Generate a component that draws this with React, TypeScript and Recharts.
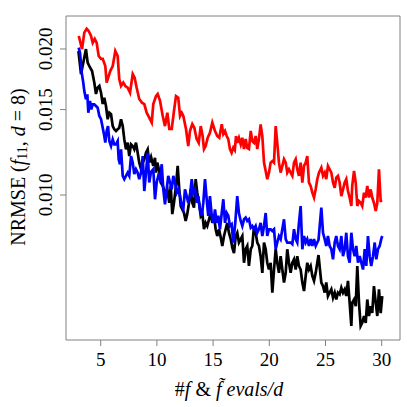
import { LineChart, Line, XAxis, YAxis, ReferenceArea, Label } from 'recharts'

// NRMSE vs number of f & f~ evaluations per dimension (log y)
const xTicks = [5, 10, 15, 20, 25, 30]
const yTicks = [0.01, 0.015, 0.02]

const redX = [
  3.05, 3.34, 3.54, 3.75, 3.93, 4.14, 4.29, 4.47, 4.64, 4.82,
  5.03, 5.18, 5.41, 5.53, 5.71, 5.85, 6.07, 6.30, 6.51, 6.65,
  6.81, 7.01, 7.19, 7.40, 7.61, 7.85, 8.02, 8.20, 8.43, 8.67,
  8.88, 9.09, 9.32, 9.54, 9.68, 9.92, 10.07, 10.28, 10.52, 10.72,
  10.93, 11.10, 11.32, 11.52, 11.70, 11.90, 12.06, 12.21, 12.35, 12.59,
  12.79, 12.94, 13.15, 13.33, 13.54, 13.72, 13.90, 14.07, 14.19, 14.34,
  14.52, 14.72, 14.93, 15.17, 15.37, 15.55, 15.77, 15.91, 16.06, 16.21,
  16.35, 16.50, 16.65, 16.80, 16.93, 17.04, 17.15, 17.30, 17.46, 17.60,
  17.75, 17.90, 18.04, 18.19, 18.35, 18.49, 18.64, 18.79, 18.93, 19.08,
  19.23, 19.38, 19.53, 19.68, 19.82, 19.97, 20.12, 20.27, 20.42, 20.57,
  20.71, 20.86, 21.01, 21.16, 21.31, 21.46, 21.60, 21.75, 21.90, 22.05,
  22.20, 22.35, 22.49, 22.64, 22.79, 22.94, 23.09, 23.24, 23.38, 23.53,
  23.68, 23.83, 23.98, 24.13, 24.27, 24.42, 24.63, 24.78, 24.93, 25.07,
  25.22, 25.37, 25.52, 25.67, 25.82, 25.96, 26.11, 26.26, 26.41, 26.56,
  26.71, 26.85, 27.00, 27.15, 27.30, 27.38, 27.54, 27.69, 27.83, 27.98,
  28.13, 28.27, 28.43, 28.57, 28.72, 28.87, 29.02, 29.16, 29.31, 29.47,
  29.61, 29.76, 29.91, 30.05,
]
const redY = [
  0.02127, 0.01999, 0.02161, 0.02202, 0.02178, 0.02127, 0.0206, 0.02097, 0.0206, 0.01934,
  0.01908, 0.01908, 0.01844, 0.01705, 0.01759, 0.01801, 0.01844, 0.01981, 0.01934, 0.01734,
  0.01678, 0.01705, 0.01678, 0.01664, 0.01625, 0.01776, 0.01745, 0.01664, 0.01577, 0.0155,
  0.0154, 0.01478, 0.01444, 0.0141, 0.0154, 0.01599, 0.01615, 0.01563, 0.01455, 0.01387,
  0.01478, 0.01368, 0.01368, 0.0149, 0.01599, 0.01586, 0.01455, 0.01478, 0.01455, 0.01368,
  0.01262, 0.01355, 0.014, 0.01376, 0.01304, 0.01281, 0.01387, 0.01323, 0.01244, 0.01262,
  0.01312, 0.01343, 0.0141, 0.01355, 0.01323, 0.01312, 0.014, 0.01336, 0.01355, 0.01323,
  0.01304, 0.01244, 0.01222, 0.01252, 0.01238, 0.01323, 0.01281, 0.01312, 0.01272, 0.01312,
  0.01244, 0.01304, 0.0125, 0.01244, 0.01355, 0.01292, 0.01281, 0.01323, 0.01244, 0.01304,
  0.01398, 0.01323, 0.01166, 0.01121, 0.01078, 0.01112, 0.01166, 0.01175, 0.01166, 0.01387,
  0.01281, 0.01166, 0.01112, 0.01148, 0.01185, 0.01166, 0.01112, 0.0113, 0.01112, 0.01095,
  0.01166, 0.01185, 0.0113, 0.01095, 0.01166, 0.01061, 0.01148, 0.01166, 0.01203, 0.01061,
  0.01044, 0.01011, 0.00988, 0.01029, 0.01078, 0.01112, 0.01138, 0.01095, 0.01112, 0.01078,
  0.01148, 0.0113, 0.01112, 0.01061, 0.01035, 0.01086, 0.01095, 0.01061, 0.00995, 0.01027,
  0.01061, 0.01078, 0.01019, 0.00988, 0.00949, 0.01044, 0.01121, 0.01061, 0.00949, 0.00972,
  0.00964, 0.00949, 0.01011, 0.00988, 0.01044, 0.00988, 0.01027, 0.00988, 0.00964, 0.00927,
  0.00964, 0.0113, 0.00972, 0.00972,
]

const blackX = [
  3.02, 3.25, 3.45, 3.69, 3.84, 3.99, 4.23, 4.43, 4.58, 4.73,
  4.88, 5.03, 5.18, 5.32, 5.47, 5.62, 5.77, 5.92, 6.07, 6.21,
  6.36, 6.51, 6.65, 6.81, 6.96, 7.10, 7.25, 7.40, 7.54, 7.70,
  7.85, 7.99, 8.14, 8.29, 8.43, 8.59, 8.74, 8.88, 9.03, 9.18,
  9.32, 9.48, 9.68, 9.83, 9.92, 10.04, 10.21, 10.34, 10.52, 10.63,
  10.81, 10.93, 11.10, 11.23, 11.37, 11.52, 11.70, 11.85, 11.99, 12.12,
  12.26, 12.41, 12.56, 12.70, 12.86, 13.01, 13.15, 13.30, 13.45, 13.59,
  13.75, 13.90, 14.04, 14.19, 14.34, 14.48, 14.64, 14.79, 14.93, 15.08,
  15.23, 15.37, 15.53, 15.68, 15.82, 15.97, 16.12, 16.26, 16.41, 16.57,
  16.71, 16.86, 17.01, 17.15, 17.30, 17.46, 17.60, 17.75, 17.90, 18.04,
  18.19, 18.35, 18.49, 18.64, 18.79, 18.93, 19.08, 19.23, 19.38, 19.53,
  19.68, 19.82, 19.97, 20.12, 20.27, 20.42, 20.57, 20.71, 20.86, 21.01,
  21.16, 21.31, 21.46, 21.60, 21.75, 21.90, 22.05, 22.20, 22.35, 22.49,
  22.64, 22.79, 22.94, 23.09, 23.24, 23.38, 23.53, 23.68, 23.83, 23.98,
  24.13, 24.27, 24.38, 24.51, 24.63, 24.78, 24.93, 25.07, 25.22, 25.37,
  25.52, 25.67, 25.82, 25.96, 26.11, 26.26, 26.41, 26.56, 26.71, 26.85,
  27.00, 27.15, 27.30, 27.38, 27.54, 27.69, 27.83, 27.98, 28.13, 28.27,
  28.43, 28.58, 28.72, 28.87, 29.02, 29.16, 29.31, 29.47, 29.61, 29.76,
  29.91, 30.05,
]
const blackY = [
  0.01981, 0.01776, 0.01874, 0.01999, 0.01874, 0.01844, 0.01801, 0.01705, 0.01615, 0.01664,
  0.01678, 0.01625, 0.0154, 0.01587, 0.01526, 0.01433, 0.01478, 0.01467, 0.01387, 0.01366,
  0.01355, 0.01366, 0.01376, 0.01433, 0.01387, 0.01302, 0.01242, 0.01282, 0.01203, 0.01272,
  0.01262, 0.01242, 0.01282, 0.01222, 0.01166, 0.0113, 0.01166, 0.01185, 0.01222, 0.01242,
  0.01166, 0.01198, 0.01148, 0.01193, 0.01112, 0.01166, 0.01121, 0.01061, 0.01044, 0.01027,
  0.01011, 0.01027, 0.00964, 0.01044, 0.00913, 0.00964, 0.01044, 0.01148, 0.01027, 0.00949,
  0.00934, 0.00918, 0.00884, 0.00913, 0.00964, 0.01027, 0.00964, 0.00942, 0.01078, 0.01011,
  0.00964, 0.00906, 0.00918, 0.0085, 0.00876, 0.00863, 0.00891, 0.00918, 0.00876, 0.00906,
  0.0085, 0.00823, 0.0085, 0.00817, 0.00785, 0.00823, 0.0085, 0.00876, 0.00836, 0.00811,
  0.00779, 0.00759, 0.00823, 0.00836, 0.00798, 0.00811, 0.00823, 0.00725, 0.00773, 0.00785,
  0.00714, 0.00773, 0.00785, 0.00863, 0.00836, 0.00798, 0.00785, 0.00748, 0.00691, 0.00798,
  0.00773, 0.00725, 0.00702, 0.00725, 0.00629, 0.00702, 0.00773, 0.00725, 0.00691, 0.00748,
  0.00702, 0.0066, 0.00691, 0.00773, 0.00725, 0.00691, 0.00725, 0.00737, 0.00702, 0.00748,
  0.00714, 0.00702, 0.0066, 0.00634, 0.00681, 0.00725, 0.00702, 0.00714, 0.00681, 0.00665,
  0.00691, 0.00725, 0.00752, 0.00702, 0.0066, 0.00649, 0.00629, 0.0066, 0.00619, 0.00629,
  0.00639, 0.00614, 0.00629, 0.00609, 0.00629, 0.00624, 0.00644, 0.00629, 0.00639, 0.00619,
  0.00665, 0.006, 0.00537, 0.006, 0.00609, 0.0059, 0.00714, 0.006, 0.00537, 0.00545,
  0.00563, 0.00545, 0.00609, 0.00563, 0.0059, 0.00571, 0.00649, 0.006, 0.00563, 0.00639,
  0.00571, 0.00619,
]

const blueX = [
  3.04, 3.16, 3.31, 3.45, 3.54, 3.69, 3.81, 3.90, 4.05, 4.16,
  4.29, 4.43, 4.58, 4.73, 4.88, 5.03, 5.18, 5.32, 5.41, 5.53,
  5.65, 5.77, 5.92, 6.07, 6.21, 6.36, 6.51, 6.60, 6.72, 6.81,
  6.96, 7.10, 7.25, 7.40, 7.54, 7.70, 7.85, 7.99, 8.14, 8.29,
  8.43, 8.59, 8.74, 8.88, 9.03, 9.18, 9.32, 9.48, 9.68, 9.83,
  9.98, 10.12, 10.28, 10.43, 10.57, 10.72, 10.87, 11.01, 11.17, 11.32,
  11.46, 11.61, 11.76, 11.90, 12.06, 12.21, 12.35, 12.50, 12.65, 12.79,
  12.94, 13.10, 13.24, 13.39, 13.54, 13.68, 13.83, 13.99, 14.13, 14.28,
  14.43, 14.57, 14.72, 14.88, 15.02, 15.17, 15.32, 15.46, 15.61, 15.77,
  15.91, 16.06, 16.21, 16.35, 16.50, 16.65, 16.80, 16.98, 17.15, 17.30,
  17.46, 17.60, 17.75, 17.90, 18.04, 18.19, 18.35, 18.49, 18.64, 18.79,
  18.93, 19.08, 19.23, 19.38, 19.53, 19.68, 19.82, 19.97, 20.12, 20.27,
  20.42, 20.57, 20.71, 20.86, 21.01, 21.16, 21.31, 21.46, 21.60, 21.75,
  21.90, 22.05, 22.20, 22.35, 22.49, 22.64, 22.79, 22.94, 23.09, 23.24,
  23.38, 23.53, 23.68, 23.83, 23.98, 24.13, 24.27, 24.38, 24.63, 24.78,
  24.93, 25.07, 25.22, 25.37, 25.52, 25.67, 25.82, 25.96, 26.11, 26.26,
  26.41, 26.56, 26.71, 26.85, 27.00, 27.15, 27.30, 27.45, 27.60, 27.74,
  27.89, 28.04, 28.19, 28.34, 28.49, 28.63, 28.78, 28.93, 29.07, 29.23,
  29.38, 29.52, 29.67, 29.82, 29.96, 30.05,
]
const blueY = [
  0.02012, 0.01965, 0.01788, 0.01705, 0.01638, 0.01575, 0.01613, 0.01478, 0.01563, 0.01502,
  0.01538, 0.01538, 0.01526, 0.01513, 0.01455, 0.01433, 0.01376, 0.01323, 0.01282, 0.01355,
  0.01387, 0.01292, 0.01262, 0.01302, 0.01272, 0.01272, 0.01292, 0.01185, 0.01157, 0.01242,
  0.01095, 0.01078, 0.01095, 0.01112, 0.01095, 0.01203, 0.01166, 0.01104, 0.0113, 0.01112,
  0.01078, 0.01112, 0.01203, 0.01019, 0.01112, 0.01222, 0.01061, 0.01116, 0.0113, 0.0098,
  0.01061, 0.01095, 0.01078, 0.01157, 0.01027, 0.00957, 0.01027, 0.01095, 0.01061, 0.01027,
  0.01095, 0.01061, 0.01011, 0.01027, 0.00995, 0.00949, 0.00934, 0.01027, 0.00995, 0.00964,
  0.00995, 0.01078, 0.01011, 0.01027, 0.00964, 0.00995, 0.00934, 0.00906, 0.00964, 0.01078,
  0.0098, 0.00906, 0.00995, 0.00906, 0.00876, 0.00934, 0.00876, 0.00906, 0.0085, 0.00918,
  0.0098, 0.00876, 0.00918, 0.00906, 0.00863, 0.0087, 0.00798, 0.0088, 0.00995, 0.00918,
  0.00884, 0.00863, 0.00891, 0.00898, 0.00884, 0.00891, 0.00856, 0.00863, 0.0085, 0.00863,
  0.00836, 0.0085, 0.00876, 0.00823, 0.00863, 0.00918, 0.00823, 0.0085, 0.0085, 0.00843,
  0.0085, 0.00773, 0.00798, 0.00823, 0.00811, 0.0085, 0.00891, 0.00811, 0.00798, 0.00798,
  0.00798, 0.00792, 0.0085, 0.00811, 0.00798, 0.00876, 0.00949, 0.00773, 0.00823, 0.00798,
  0.00811, 0.00785, 0.00811, 0.00785, 0.00811, 0.00785, 0.00798, 0.00808, 0.00942, 0.00836,
  0.00811, 0.00785, 0.00823, 0.00785, 0.00773, 0.00737, 0.00798, 0.00823, 0.00785, 0.00773,
  0.00823, 0.00748, 0.00773, 0.00836, 0.00748, 0.00725, 0.00836, 0.00773, 0.00748, 0.00785,
  0.00725, 0.00748, 0.00725, 0.00702, 0.00773, 0.00714, 0.00823, 0.00748, 0.00714, 0.00748,
  0.00798, 0.00737, 0.00773, 0.00785, 0.00811, 0.00823,
]

const toPoints = (xs: number[], ys: number[]) =>
  xs.slice(0, Math.min(xs.length, ys.length)).map((x, i) => ({ x, y: ys[i] }))

const redData = toPoints(redX, redY)
const blackData = toPoints(blackX, blackY)
const blueData = toPoints(blueX, blueY)

const SERIF = { fontFamily: '"Liberation Serif", "Times New Roman", serif' }
const GREY = '#808080'
const X_DOMAIN: [number, number] = [1.913, 31.63]
const Y_DOMAIN: [number, number] = [0.005024, 0.02339]

const XTick = ({ x, payload }: any) => (
  <text x={x} y={359} textAnchor="middle" dominantBaseline="central" fontSize={19} style={SERIF} fill="#000">
    {payload.value}
  </text>
)

const YTick = ({ y, payload }: any) => (
  <text
    x={46}
    y={y}
    transform={`rotate(-90, 46, ${y})`}
    textAnchor="middle"
    dominantBaseline="central"
    fontSize={19}
    style={SERIF}
    fill="#000"
  >
    {payload.value.toFixed(3)}
  </text>
)

const XTitle = () => (
  <text x={229} y={389} textAnchor="middle" dominantBaseline="central" fontSize={20} style={SERIF} fill="#000">
    #<tspan fontStyle="italic">f</tspan> &amp; <tspan fontStyle="italic">{'f\u0303'}</tspan>
    <tspan fontStyle="italic" dx={5}>evals/d</tspan>
  </text>
)

const YTitle = () => (
  <text
    x={18}
    y={167}
    transform="rotate(-90, 18, 167)"
    textAnchor="middle"
    dominantBaseline="central"
    fontSize={20}
    style={SERIF}
    fill="#000"
  >
    NRMSE (<tspan fontStyle="italic">f</tspan>
    <tspan fontSize={14} dy={4}>11</tspan>
    <tspan dy={-4}>, </tspan>
    <tspan fontStyle="italic">d</tspan> = 8)
  </text>
)

export default function App() {
  return (
    <div style={{ position: 'absolute', left: 0, top: 0 }}>
      <LineChart width={407} height={407} margin={{ top: 16, right: 7, bottom: 0, left: 0 }}>
        <XAxis
          type="number"
          dataKey="x"
          domain={X_DOMAIN}
          allowDataOverflow
          ticks={xTicks}
          height={67}
          axisLine={false}
          tickLine={{ stroke: GREY }}
          tickSize={6}
          tick={<XTick />}
        >
          <Label content={<XTitle />} />
        </XAxis>
        <YAxis
          type="number"
          dataKey="y"
          scale="log"
          domain={Y_DOMAIN}
          allowDataOverflow
          ticks={yTicks}
          width={66}
          axisLine={false}
          tickLine={{ stroke: GREY }}
          tickSize={6}
          tick={<YTick />}
        >
          <Label content={<YTitle />} />
        </YAxis>
        <ReferenceArea
          x1={X_DOMAIN[0]}
          x2={X_DOMAIN[1]}
          y1={Y_DOMAIN[0]}
          y2={Y_DOMAIN[1]}
          fill="none"
          stroke={GREY}
          strokeWidth={1}
          ifOverflow="visible"
        />
        <Line data={redData} dataKey="y" type="linear" stroke="#ff0000" strokeWidth={2.7} dot={false} isAnimationActive={false} />
        <Line data={blackData} dataKey="y" type="linear" stroke="#000000" strokeWidth={2.7} dot={false} isAnimationActive={false} />
        <Line data={blueData} dataKey="y" type="linear" stroke="#0000ff" strokeWidth={2.7} dot={false} isAnimationActive={false} />
      </LineChart>
    </div>
  )
}
